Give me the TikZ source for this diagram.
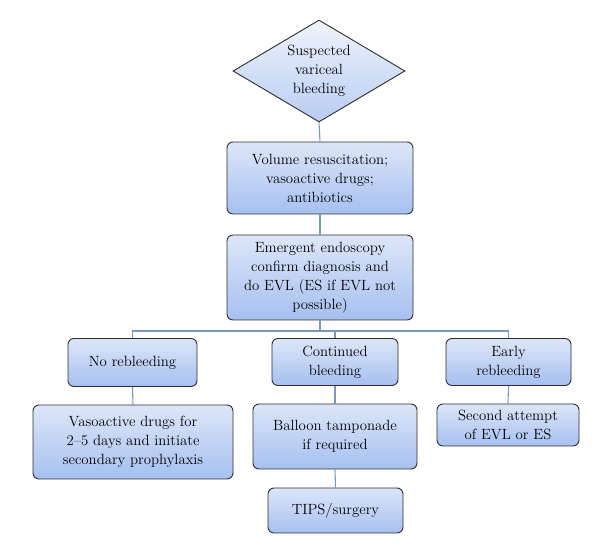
\documentclass[tikz,border=0pt]{standalone}
\usetikzlibrary{shapes.geometric}
\definecolor{linec}{HTML}{7A98BE}
\definecolor{boxtop}{HTML}{DDE6F8}
\definecolor{boxbot}{HTML}{A6C0F0}
\definecolor{dtop}{HTML}{F0F4FC}
\definecolor{dbot}{HTML}{B8CCF2}
\definecolor{edge}{HTML}{2E2E2E}
\begin{document}
\begin{tikzpicture}[x=1pt,y=1pt,
  every node/.style={font=\fontsize{14.8}{19}\selectfont, align=center, text=black},
  flowbox/.style={rectangle, rounded corners=6pt, draw=edge, line width=0.9pt,
    top color=boxtop, bottom color=boxbot, inner sep=2pt},
  decide/.style={diamond, draw=edge, line width=0.9pt, top color=dtop, bottom color=dbot,
    inner sep=0pt, aspect=1.7},
  conn/.style={draw=linec, line width=1.1pt}]
\useasboundingbox (0,0) rectangle (600,556);
% y_tikz = 556 - y
\node[decide, minimum width=172pt, minimum height=102pt] (d) at (319,485) {Suspected\\variceal\\bleeding};
\node[flowbox, minimum width=186pt, minimum height=72pt] (b1) at (320,378) {Volume resuscitation;\\vasoactive drugs;\\antibiotics};
\node[flowbox, minimum width=186pt, minimum height=85pt] (b2) at (320,278.5) {Emergent endoscopy\\confirm diagnosis and\\do EVL (ES if EVL not\\possible)};
\node[flowbox, minimum width=129pt, minimum height=48pt] (n1) at (132.5,193.5) {No rebleeding};
\node[flowbox, minimum width=126pt, minimum height=47pt] (c1) at (335,194) {Continued\\bleeding};
\node[flowbox, minimum width=125pt, minimum height=47pt] (e1) at (508.5,194) {Early\\rebleeding};
\node[flowbox, minimum width=200pt, minimum height=74pt] (v) at (133,114) {Vasoactive drugs for\\2--5 days and initiate\\secondary prophylaxis};
\node[flowbox, minimum width=164pt, minimum height=65pt] (bt) at (335,119.5) {Balloon tamponade\\if required};
\node[flowbox, minimum width=135pt, minimum height=45pt] (tp) at (335.5,45.5) {TIPS/surgery};
\node[flowbox, minimum width=142pt, minimum height=42pt] (sa) at (508,131) {Second attempt\\of EVL or ES};
\coordinate (bus) at (320,225);
\path[conn] (d.south) -- (b1.north);
\path[conn] (b1.south) -- (b2.north);
\path[conn] (b2.south) -- (bus);
\path[conn] (n1.north) |- (bus) -| (e1.north);
\path[conn] (c1.north) -- (c1.north |- bus);
\path[conn] (n1.south) -- (v.north);
\path[conn] (c1.south) -- (bt.north);
\path[conn] (bt.south) -- (tp.north);
\path[conn] (e1.south) -- (sa.north);
\end{tikzpicture}
\end{document}
